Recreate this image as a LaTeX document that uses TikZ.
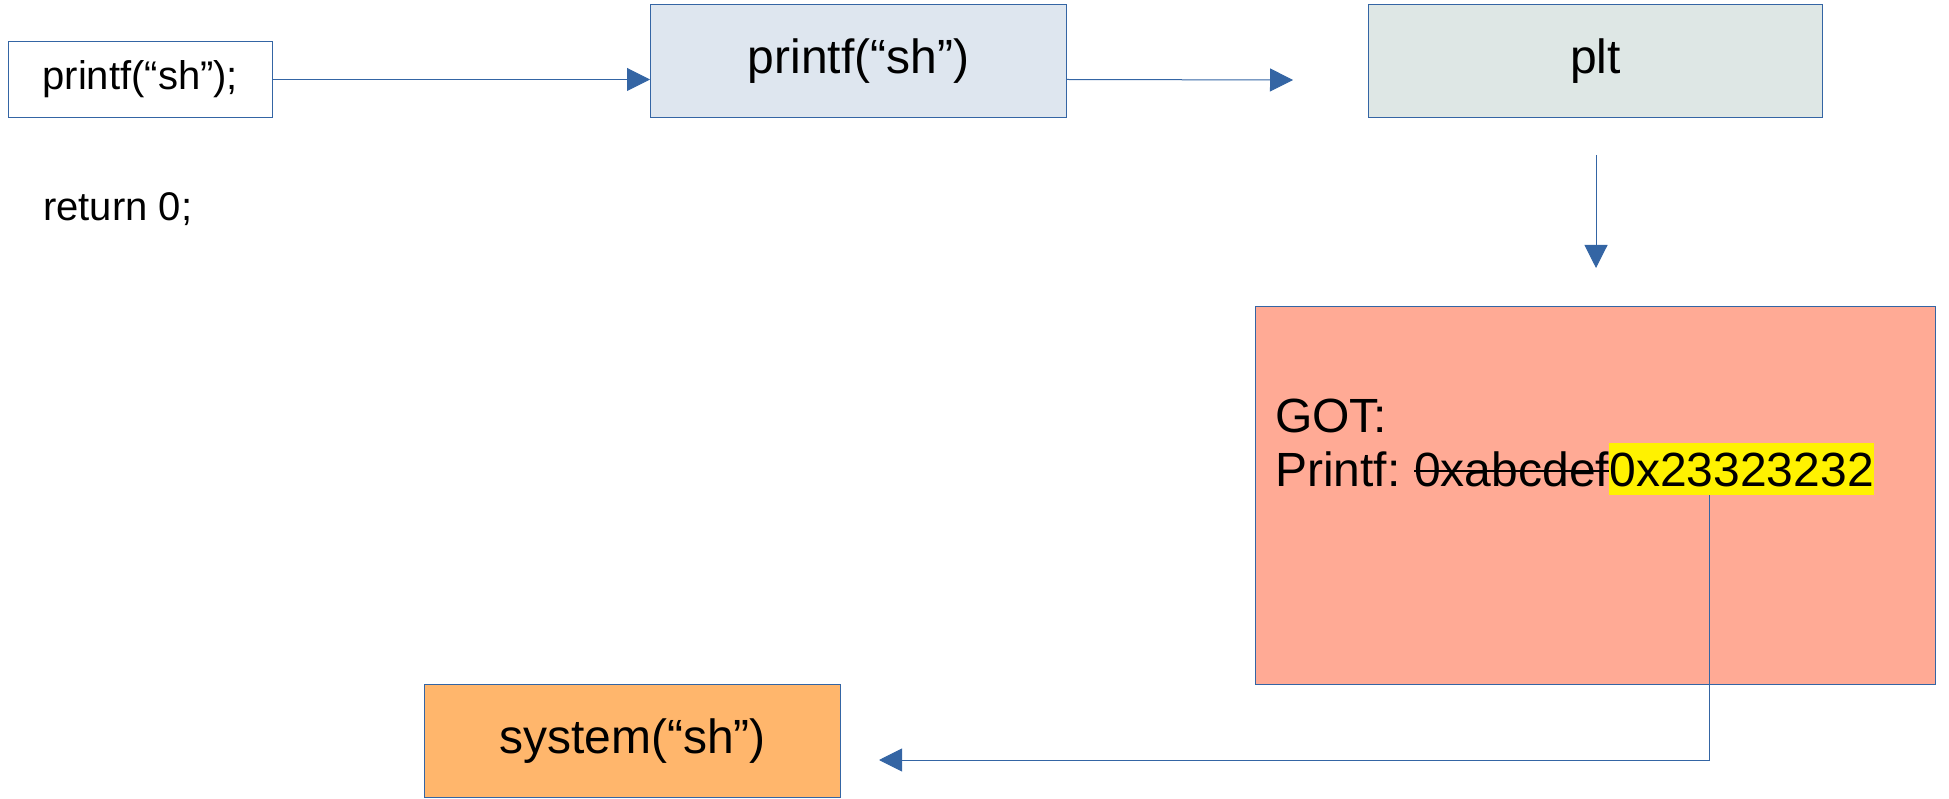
\documentclass[tikz,border=0pt]{standalone}
\usepackage{fontspec}
\setmainfont{Liberation Sans}
\usetikzlibrary{arrows.meta}
\definecolor{lo}{HTML}{3465A4}
\definecolor{lbox}{HTML}{DEE6EF}
\definecolor{tbox}{HTML}{DEE7E5}
\definecolor{gbox}{HTML}{FFAA95}
\definecolor{obox}{HTML}{FFB66C}
\begin{document}
\begin{tikzpicture}[x=1pt,y=-1pt,
  box/.style={draw=lo, line width=1pt, inner sep=0pt, anchor=north west},
  bigt/.style={font=\fontsize{48}{56}\selectfont},
  smallt/.style={font=\fontsize{40}{48}\selectfont},
  conn/.style={draw=lo, line width=1pt, -{Triangle[length=23pt,width=23pt]}}]
\useasboundingbox (0,0) rectangle (1949,799);
\node[box, smallt, fill=white, minimum width=264.5pt, minimum height=76pt] (src) at (7.5,41) {printf(“sh”);};
\node[smallt, anchor=west, inner sep=0pt] (ret) at (43,209) {return 0;};
\node[box, bigt, fill=lbox, minimum width=416pt, minimum height=113pt] (call) at (650,4) {printf(“sh”)};
\node[box, bigt, fill=tbox, minimum width=454pt, minimum height=113pt] (plt) at (1368,4) {plt};
\node[box, fill=gbox, minimum width=680pt, minimum height=378pt] (got) at (1255,306) {};
\node[box, bigt, fill=obox, minimum width=416pt, minimum height=113pt] (sys) at (424,684) {system(“sh”)};
% GOT text
\node[bigt, anchor=base west, inner sep=0pt] (gotl) at (1275,432) {GOT:};
\node[bigt, anchor=base west, inner sep=0pt] (pf) at (1275,486) {Printf:};
\node[bigt, anchor=base west, inner sep=0pt] (old) at ([xshift=13.3pt]pf.base east) {0xabcdef};
\draw[line width=2pt] ([yshift=15pt]old.base west) -- ([yshift=15pt]old.base east);
\node[bigt, anchor=base west, inner sep=0pt, fill=yellow, text height=43pt, text depth=9pt] (new) at (old.base east) {0x23323232};
% connectors
\coordinate (pltin) at (1293,80);
\coordinate (pltout) at (1596,155);
\coordinate (gotin) at (1596,268);
\coordinate (gotout) at (1709,495);
\coordinate (sysin) at (879,760);
\draw[conn] (src.east) -- (src.east -| call.west);
\draw[conn] (call.east |- src.east) -- (pltin);
\draw[conn] (pltout) -- (gotin);
\draw[conn] (gotout) |- (sysin);
\end{tikzpicture}
\end{document}
